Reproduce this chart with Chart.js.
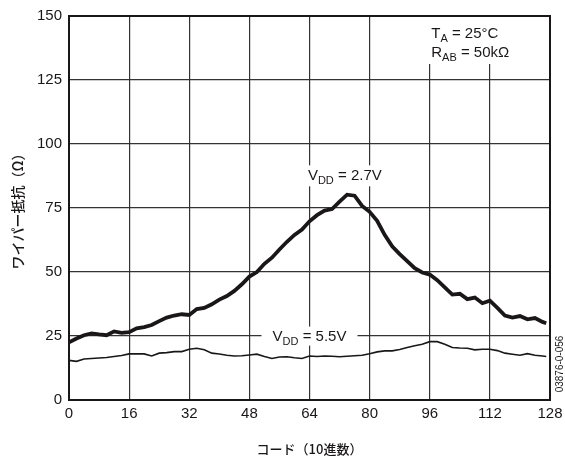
<!DOCTYPE html>
<html>
<head>
<meta charset="utf-8">
<script src="https://cdn.jsdelivr.net/npm/chart.js@4.4.1/dist/chart.umd.min.js"></script>
<style>
  body { margin: 0; background: #fff; }
  #wrap { width: 565px; height: 461px; }
</style>
</head>
<body>
<div id="wrap"><canvas id="grafico" width="565" height="461"></canvas></div>
<script>
// datos (codigo decimal vs resistencia del cursor)
const codes = [0, 2, 4, 6, 8, 10, 12, 14, 16, 18, 20, 22, 24, 26, 28, 30, 32, 34, 36, 38,
  40, 42, 44, 46, 48, 50, 52, 54, 56, 58, 60, 62, 64, 66, 68, 70, 72, 74, 76, 78,
  80, 82, 84, 86, 88, 90, 92, 94, 96, 98, 100, 102, 104, 106, 108, 110, 112, 114, 116, 118,
  120, 122, 124, 126, 127];

const vdd27 = [22.5, 24, 25.3, 26, 25.6, 25.3, 26.8, 26.2, 26.5, 28, 28.5, 29.3, 30.8, 32.2, 33, 33.5, 33.2, 35.5, 36, 37.4,
  39.2, 40.6, 42.6, 45.2, 48.2, 50, 53.2, 55.6, 58.8, 61.8, 64.5, 66.6, 69.8, 72.2, 74, 74.6, 77.5, 80.2, 79.8, 75.8,
  73.5, 70, 64.5, 60, 57, 54.2, 51.5, 49.8, 49, 46.8, 44, 41.2, 41.5, 39.4, 40, 37.8, 38.8, 36, 33, 32.2,
  32.8, 31.5, 32, 30.5, 30];

const vdd55 = [15.5, 15.1, 16, 16.2, 16.4, 16.6, 17, 17.4, 18, 18, 18, 17.2, 18.3, 18.5, 18.9, 18.9, 19.8, 20.2, 19.6, 18.3,
  18, 17.5, 17.2, 17.3, 17.6, 17.9, 17, 16.2, 16.8, 16.9, 16.5, 16.2, 17.2, 17, 17.2, 17.1, 16.9, 17.1, 17.3, 17.5,
  18.1, 18.8, 19.2, 19.2, 19.7, 20.5, 21.2, 21.8, 22.8, 22.8, 21.8, 20.5, 20.3, 20.2, 19.6, 19.8, 19.8, 19.3, 18.3, 17.9,
  17.5, 18.1, 17.5, 17.2, 17];

const xTicks = [0, 16, 32, 48, 64, 80, 96, 112, 128];
const yTicks = [0, 25, 50, 75, 100, 125, 150];

const ink = "#1a1718";
const tickFont = { family: "'Liberation Sans', Arial, sans-serif", size: 15 };

const toPoints = (vals) => codes.map((c, i) => ({ x: c, y: vals[i] }));

// texto con subindice: V_DD = 2.7V, T_A = 25°C ...
function textoSub(ctx, x, y, main, sub, rest, align) {
    ctx.font = "15px 'Liberation Sans', Arial, sans-serif";
    const w1 = ctx.measureText(main).width;
    const w3 = ctx.measureText(rest).width;
    ctx.font = "11px 'Liberation Sans', Arial, sans-serif";
    const w2 = ctx.measureText(sub).width;
    const total = w1 + w2 + w3;
    let x0 = align === "left" ? x : x - total / 2;
    ctx.textAlign = "left";
    ctx.textBaseline = "alphabetic";
    ctx.fillStyle = ink;
    ctx.font = "15px 'Liberation Sans', Arial, sans-serif";
    ctx.fillText(main, x0, y);
    ctx.font = "11px 'Liberation Sans', Arial, sans-serif";
    ctx.fillText(sub, x0 + w1, y + 4);
    ctx.font = "15px 'Liberation Sans', Arial, sans-serif";
    ctx.fillText(rest, x0 + w1 + w2, y);
    return total;
}

const etiquetas = {
    id: "etiquetas",
    beforeDatasetsDraw(chart) {
        const { ctx, scales: { x, y } } = chart;
        ctx.save();
        // fondos blancos que cortan la reticula
        ctx.fillStyle = "#fff";
        const cx27 = x.getPixelForValue(73.4), cy27 = y.getPixelForValue(85.8);
        ctx.fillRect(cx27 - 42, cy27 - 15, 84, 21);
        const cx55 = x.getPixelForValue(64), cy55 = y.getPixelForValue(23.2);
        ctx.fillRect(cx55 - 48, cy55 - 14, 96, 19);
        const tx = x.getPixelForValue(96.4);
        ctx.fillRect(tx - 4, chart.chartArea.top + 1, 100, 47);

        textoSub(ctx, cx27, cy27, "V", "DD", " = 2.7V", "center");
        textoSub(ctx, cx55, cy55, "V", "DD", " = 5.5V", "center");
        textoSub(ctx, tx, y.getPixelForValue(141.3), "T", "A", " = 25°C", "left");
        textoSub(ctx, tx, y.getPixelForValue(134), "R", "AB", " = 50kΩ", "left");
        ctx.restore();
    },
    afterDraw(chart) {
        const { ctx, chartArea: a } = chart;
        ctx.save();
        ctx.strokeStyle = ink;
        ctx.lineWidth = 2;
        ctx.strokeRect(a.left, a.top, a.right - a.left, a.bottom - a.top);
        // codigo de figura vertical
        ctx.translate(560, 364);
        ctx.rotate(-Math.PI / 2);
        ctx.font = "10px 'Liberation Sans', Arial, sans-serif";
        ctx.fillStyle = ink;
        ctx.textAlign = "center";
        ctx.textBaseline = "middle";
        ctx.fillText("03876-0-056", 0, 0);
        ctx.restore();
    }
};

new Chart(document.getElementById("grafico"), {
    type: "line",
    data: {
        datasets: [
            { label: "VDD = 2.7V", data: toPoints(vdd27), borderColor: ink, borderWidth: 3.8, pointRadius: 0, tension: 0 },
            { label: "VDD = 5.5V", data: toPoints(vdd55), borderColor: ink, borderWidth: 1.6, pointRadius: 0, tension: 0 }
        ]
    },
    options: {
        responsive: false,
        animation: false,
        layout: { padding: { top: 15, right: 15, left: 0, bottom: 0 } },
        plugins: { legend: { display: false }, tooltip: { enabled: false } },
        scales: {
            x: {
                type: "linear",
                min: 0,
                max: 128,
                afterBuildTicks: (s) => { s.ticks = xTicks.map(v => ({ value: v })); },
                afterFit: (s) => { s.height = 61; s.paddingRight = 0; s.paddingLeft = 0; },
                grid: { color: "#333", lineWidth: 1.2, drawTicks: false },
                border: { display: false },
                ticks: { color: ink, font: tickFont, padding: 5, maxRotation: 0 },
                title: {
                    display: true, text: "コード（10進数）", color: ink,
                    font: { family: "'Noto Sans CJK JP', sans-serif", size: 13, weight: 500 },
                    padding: { top: 0, bottom: 4 }
                }
            },
            y: {
                min: 0,
                max: 150,
                afterBuildTicks: (s) => { s.ticks = yTicks.map(v => ({ value: v })); },
                afterFit: (s) => { s.width = 69; },
                grid: { color: "#333", lineWidth: 1.2, drawTicks: false },
                border: { display: false },
                ticks: { color: ink, font: tickFont, padding: 7 },
                title: {
                    display: true, text: "ワイパー抵抗（Ω）", color: ink,
                    font: { family: "'Noto Sans CJK JP', sans-serif", size: 14, weight: 500 },
                    padding: { top: 9, bottom: 0 }
                }
            }
        }
    },
    plugins: [etiquetas]
});
</script>
</body>
</html>
